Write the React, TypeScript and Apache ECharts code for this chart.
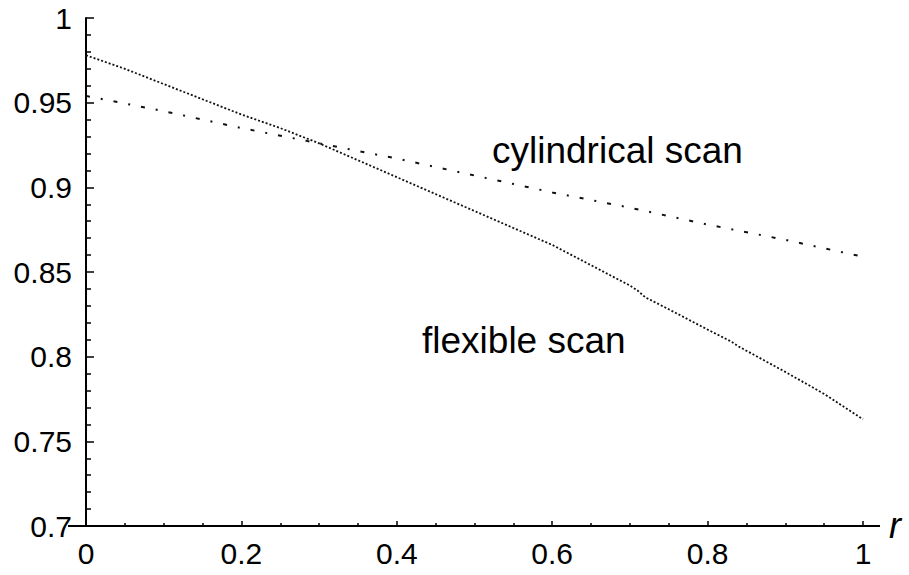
import React, { useEffect, useRef } from "react";
import * as echarts from "echarts";

// ---- data ----
const flexibleX = [0, 0.05, 0.1, 0.15, 0.2, 0.25, 0.3, 0.35, 0.4, 0.45, 0.5, 0.55, 0.6, 0.65, 0.7, 0.71, 0.72, 0.75, 0.8, 0.83, 0.84, 0.9, 0.95, 1.0];
const flexibleY = [0.978, 0.970, 0.961, 0.952, 0.943, 0.935, 0.926, 0.916, 0.906, 0.896, 0.886, 0.876, 0.866, 0.854, 0.842, 0.839, 0.835, 0.828, 0.816, 0.809, 0.806, 0.791, 0.778, 0.763];

const cylindricalX = [0, 0.1, 0.2, 0.3, 0.4, 0.5, 0.6, 0.7, 0.8, 0.9, 1.0];
const cylindricalY = [0.954, 0.945, 0.935, 0.926, 0.917, 0.907, 0.897, 0.888, 0.878, 0.869, 0.859];

const xTicks = [0, 0.2, 0.4, 0.6, 0.8, 1];
const yTicks = [0.7, 0.75, 0.8, 0.85, 0.9, 0.95, 1];

const labelFlexible = "flexible scan";
const labelCylindrical = "cylindrical scan";
const xAxisName = "r";

export default function App() {
  const ref = useRef<HTMLDivElement>(null);

  useEffect(() => {
    if (!ref.current) return;
    const chart = echarts.init(ref.current, undefined, { renderer: "svg" });
    const font = "'Liberation Sans', Arial, Helvetica, sans-serif";
    const black = "#000";

    const option: any = {
      animation: false,
      backgroundColor: "#fff",
      grid: { left: 86, top: 18, right: 46, bottom: 49, containLabel: false },
      xAxis: {
        type: "value",
        min: xTicks[0],
        max: xTicks[xTicks.length - 1],
        interval: 0.2,
        axisLine: { show: true, onZero: false, lineStyle: { color: black, width: 2 } },
        axisTick: { show: true, inside: true, length: 5, lineStyle: { color: black, width: 1.5 } },
        minorTick: { show: true, splitNumber: 4, length: 3, lineStyle: { color: black, width: 1.5 } },
        splitLine: { show: false },
        axisLabel: {
          color: black,
          fontFamily: font,
          fontSize: 30,
          margin: 12,
          formatter: (v: number) => {
            const t = xTicks.find((k) => Math.abs(k - v) < 1e-6);
            return t === undefined ? "" : String(t);
          },
        },
      },
      yAxis: {
        type: "value",
        min: yTicks[0],
        max: yTicks[yTicks.length - 1],
        interval: 0.05,
        axisLine: { show: true, onZero: false, lineStyle: { color: black, width: 2 } },
        axisTick: { show: true, inside: true, length: 8, lineStyle: { color: black, width: 1.5 } },
        minorTick: { show: true, splitNumber: 5, length: 5, lineStyle: { color: black, width: 1.5 } },
        splitLine: { show: false },
        axisLabel: {
          color: black,
          fontFamily: font,
          fontSize: 30,
          margin: 14,
          padding: [6, 0, 0, 0],
          formatter: (v: number) => {
            const t = yTicks.find((k) => Math.abs(k - v) < 1e-6);
            return t === undefined ? "" : String(t);
          },
        },
      },
      series: [
        {
          name: labelFlexible,
          type: "line",
          data: flexibleX.map((x, i) => [x, flexibleY[i]]),
          showSymbol: false,
          symbol: "none",
          lineStyle: { color: "#111", width: 1.8, type: [2, 2] },
          z: 3,
        },
        {
          name: labelCylindrical,
          type: "line",
          data: cylindricalX.map((x, i) => [x, cylindricalY[i]]),
          showSymbol: false,
          symbol: "none",
          lineStyle: { color: "#111", width: 2, type: [4, 11, 2, 11] },
          z: 3,
        },
      ],
    };
    chart.setOption(option);

    const o = chart.convertToPixel({ gridIndex: 0 }, [xTicks[0], yTicks[0]]) as number[];
    const e = chart.convertToPixel({ gridIndex: 0 }, [xTicks[xTicks.length - 1], yTicks[0]]) as number[];

    chart.setOption({
      graphic: [
        {
          type: "rect",
          shape: { x: o[0] - 18, y: o[1] - 1, width: 19, height: 2 },
          style: { fill: black },
          z: 10,
        },
        {
          type: "rect",
          shape: { x: e[0] - 1, y: e[1] - 1, width: 18, height: 2 },
          style: { fill: black },
          z: 10,
        },
        {
          type: "text",
          x: e[0] + 26,
          y: e[1] + 17,
          style: {
            text: xAxisName,
            fill: black,
            font: `italic 36px ${font}`,
            align: "left",
            verticalAlign: "bottom",
          },
          z: 10,
        },
        {
          type: "text",
          x: 492,
          y: 150,
          style: {
            text: labelCylindrical,
            fill: black,
            font: `37px ${font}`,
            align: "left",
            verticalAlign: "middle",
          },
          z: 10,
        },
        {
          type: "text",
          x: 422,
          y: 340,
          style: {
            text: labelFlexible,
            fill: black,
            font: `37px ${font}`,
            align: "left",
            verticalAlign: "middle",
          },
          z: 10,
        },
      ],
    });

    return () => chart.dispose();
  }, []);

  return (
    <div
      ref={ref}
      style={{ position: "fixed", left: 0, top: 0, width: 909, height: 575, background: "#fff" }}
    />
  );
}
